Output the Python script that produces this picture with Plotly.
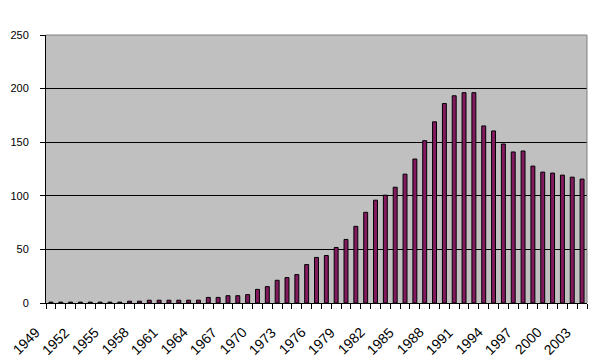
import plotly.graph_objects as go

years = list(range(1949, 2004))
values = [
    0.8, 0.8, 0.8, 0.8, 0.8, 0.8, 0.8, 0.8,   # 1949-1956
    1.7, 1.7,                                  # 1957-1958
    2.6, 2.6, 2.6, 2.6, 2.6, 2.6,              # 1959-1964
    5.2, 5.2, 6.8, 6.8,                        # 1965-1968
    7.8, 12.7, 15.3, 21.2, 23.7, 26.5, 35.9, 42.5, 44.3, 51.8,   # 1969-1978
    59.3, 71.5, 84.6, 95.9, 100.6, 108, 120.2, 134.3, 151.4, 169,  # 1979-1988
    186.1, 193.3, 196.2, 196.2, 165.2, 160.5, 148.3, 140.9, 141.8, 127.7,  # 1989-1998
    122.1, 121.2, 119.3, 117.4, 115.6,         # 1999-2003
]
tick_years = list(range(1949, 2004, 3))
tick_labels = [str(y) for y in tick_years]
y_ticks = [0, 50, 100, 150, 200, 250]

fig = go.Figure(go.Bar(
    x=years, y=values,
    marker=dict(color="#831A60", line=dict(color="black", width=1)),
))

family = "Arial, Liberation Sans, sans-serif"

# rotated year labels (Excel style) as text annotations
annotations = [
    dict(x=yr, y=0, xref="x", yref="paper", text=lab, showarrow=False,
         textangle=-45, xanchor="right", yanchor="top",
         xshift=-5, yshift=-19,
         font=dict(family=family, size=14, color="black"))
    for yr, lab in zip(tick_years, tick_labels)
]

fig.update_layout(
    width=600, height=363,
    margin=dict(l=46, r=13, t=35, b=60, autoexpand=False),
    paper_bgcolor="white",
    plot_bgcolor="#C0C0C0",
    bargap=0.6,
    showlegend=False,
    font=dict(family=family, size=12, color="black"),
    annotations=annotations,
    shapes=[
        dict(type="line", xref="paper", yref="paper", x0=0, x1=1, y0=1, y1=1,
             line=dict(color="#808080", width=1), layer="above"),
        dict(type="line", xref="paper", yref="paper", x0=1, x1=1, y0=0, y1=1,
             line=dict(color="#808080", width=1), layer="above"),
    ],
)
fig.update_xaxes(
    range=[1948.5, 2003.5], automargin=False,
    tickmode="linear", tick0=1948.5, dtick=1, showticklabels=False,
    ticks="outside", ticklen=5, tickcolor="black", tickwidth=1,
    showgrid=False, zeroline=False,
    showline=True, linecolor="black", linewidth=1,
)
fig.update_yaxes(
    range=[0, 250], automargin=False, tickmode="array", tickvals=y_ticks,
    ticks="outside", ticklen=5, tickcolor="black", tickwidth=1,
    ticklabelstandoff=9,
    showgrid=True, gridcolor="black", gridwidth=1,
    zeroline=False, showline=True, linecolor="black", linewidth=1,
    tickfont=dict(family=family, size=11, color="black"),
)

fig.write_html(
    "out.html",
    config={"displayModeBar": False},
    post_script="document.body.style.margin='0';document.body.style.padding='0';",
)
